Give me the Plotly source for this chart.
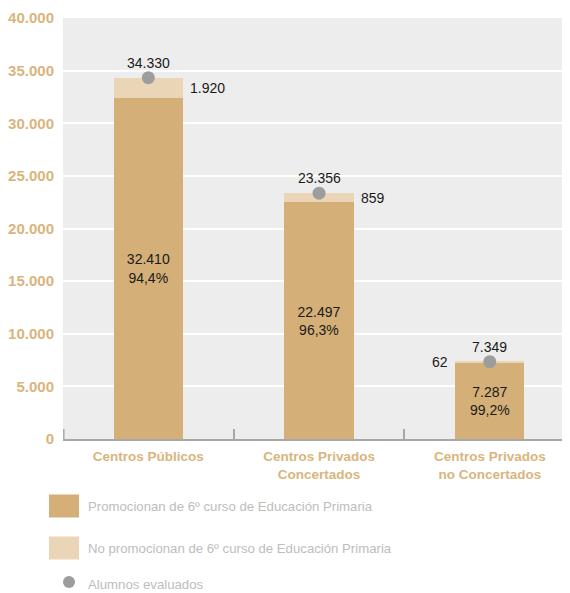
import plotly.graph_objects as go

categories = ["Centros Públicos", "Centros Privados<br>Concertados", "Centros Privados<br>no Concertados"]
promocionan = [32410, 22497, 7287]
no_promocionan = [1920, 859, 62]
evaluados = [34330, 23356, 7349]
pct_promocionan = ["94,4%", "96,3%", "99,2%"]
legend_labels = ["Promocionan de 6º curso de Educación Primaria",
                 "No promocionan de 6º curso de Educación Primaria",
                 "Alumnos evaluados"]
y_ticks = [0, 5000, 10000, 15000, 20000, 25000, 30000, 35000, 40000]

DARK = "#D4AF77"
LIGHT = "#EAD6B7"
DOT = "#9D9D9D"
TAN_TXT = "#D9B57D"
BG = "#EDEDED"
AXIS = "#A8A8A8"
REG = "Liberation Sans, Arial, sans-serif"

def fmt(v):
    return f"{v:,}".replace(",", ".")

BW = 0.405
OFF = 8  # page body margin in the browser
W, H = 570 - OFF, 593 - OFF
ML, MT = 63 - OFF, 18 - OFF
PLOT_BOTTOM = 439 - OFF
MB = H - PLOT_BOTTOM

fig = go.Figure()
fig.add_trace(go.Bar(
    x=categories, y=promocionan, width=BW, marker=dict(color=DARK, line=dict(width=0)),
    text=[f"{fmt(v)}<br>{p}" for v, p in zip(promocionan, pct_promocionan)],
    textposition="inside", insidetextanchor="middle", textangle=0,
    textfont=dict(family=REG, size=14, color="#1a1a1a"),
    name=legend_labels[0], hoverinfo="skip"))
fig.add_trace(go.Bar(
    x=categories, y=no_promocionan, width=BW, marker=dict(color=LIGHT, line=dict(width=0)),
    name=legend_labels[1], hoverinfo="skip"))
fig.add_trace(go.Scatter(
    x=categories, y=evaluados, mode="markers",
    marker=dict(color=DOT, size=13, line=dict(width=0)),
    name=legend_labels[2], hoverinfo="skip"))

# total labels above dots
for i, t in enumerate(evaluados):
    fig.add_annotation(x=i, y=t, text=fmt(t), showarrow=False, yshift=15,
                       font=dict(family=REG, size=14, color="#1a1a1a"))
# non-promoting labels beside bars
for i, (p, n) in enumerate(zip(promocionan, no_promocionan)):
    left = (i == len(categories) - 1)
    fig.add_annotation(x=i + (-BW / 2 if left else BW / 2), y=p + n / 2, text=fmt(n),
                       showarrow=False, xanchor="right" if left else "left",
                       xshift=-5 if left else 5,
                       font=dict(family=REG, size=14, color="#1a1a1a"))

fig.update_layout(
    width=W, height=H,
    margin=dict(l=ML, r=0, t=MT, b=MB, autoexpand=False),
    paper_bgcolor="white", plot_bgcolor=BG,
    barmode="stack", separators=",.", showlegend=False,
    xaxis=dict(type="category", range=[-0.5, 2.47], automargin=False,
               tickfont=dict(family=REG, size=13.5, color=TAN_TXT, weight="bold"),
               showgrid=False, zeroline=False,
               showline=True, linecolor=AXIS, linewidth=2,
               ticks="inside", tickson="boundaries", ticklen=10, tickwidth=1.5,
               tickcolor=AXIS, ticklabelstandoff=4, fixedrange=True),
    yaxis=dict(range=[0, 40000], tickvals=y_ticks, tickformat=",d", automargin=False,
               tickfont=dict(family=REG, size=15, color=TAN_TXT, weight="bold"),
               showgrid=True, gridcolor="white", gridwidth=1.5,
               zeroline=False, showline=False, ticks="", ticklabelstandoff=8,
               fixedrange=True),
)

plot_h = H - MB - MT
plot_w = W - ML
def py(pix):
    return (H - MB - (pix - OFF)) / plot_h
def px(pix):
    return (pix - OFF - ML) / plot_w

# left-edge short tick (L-corner)
fig.add_shape(type="line", xref="paper", yref="paper", x0=px(63.8), x1=px(63.8),
              y0=0, y1=py(429), line=dict(color=AXIS, width=1.5))

# custom legend
leg_y = [506, 548, 584]
swatch_cols = [DARK, LIGHT]
for k in range(2):
    fig.add_shape(type="rect", xref="paper", yref="paper",
                  x0=px(49), x1=px(79), y0=py(leg_y[k] + 11.5), y1=py(leg_y[k] - 11.5),
                  fillcolor=swatch_cols[k], line=dict(width=0))
fig.add_shape(type="circle", xref="paper", yref="paper",
              x0=px(63), x1=px(75), y0=py(leg_y[2] + 4), y1=py(leg_y[2] - 8),
              fillcolor=DOT, line=dict(width=0))
for k in range(3):
    fig.add_annotation(xref="paper", yref="paper", x=px(86), y=py(leg_y[k]),
                       text=legend_labels[k], showarrow=False, xanchor="left", yanchor="middle",
                       font=dict(family=REG, size=13.2, color="#BDBDBD"))

fig.write_html("out.html")
